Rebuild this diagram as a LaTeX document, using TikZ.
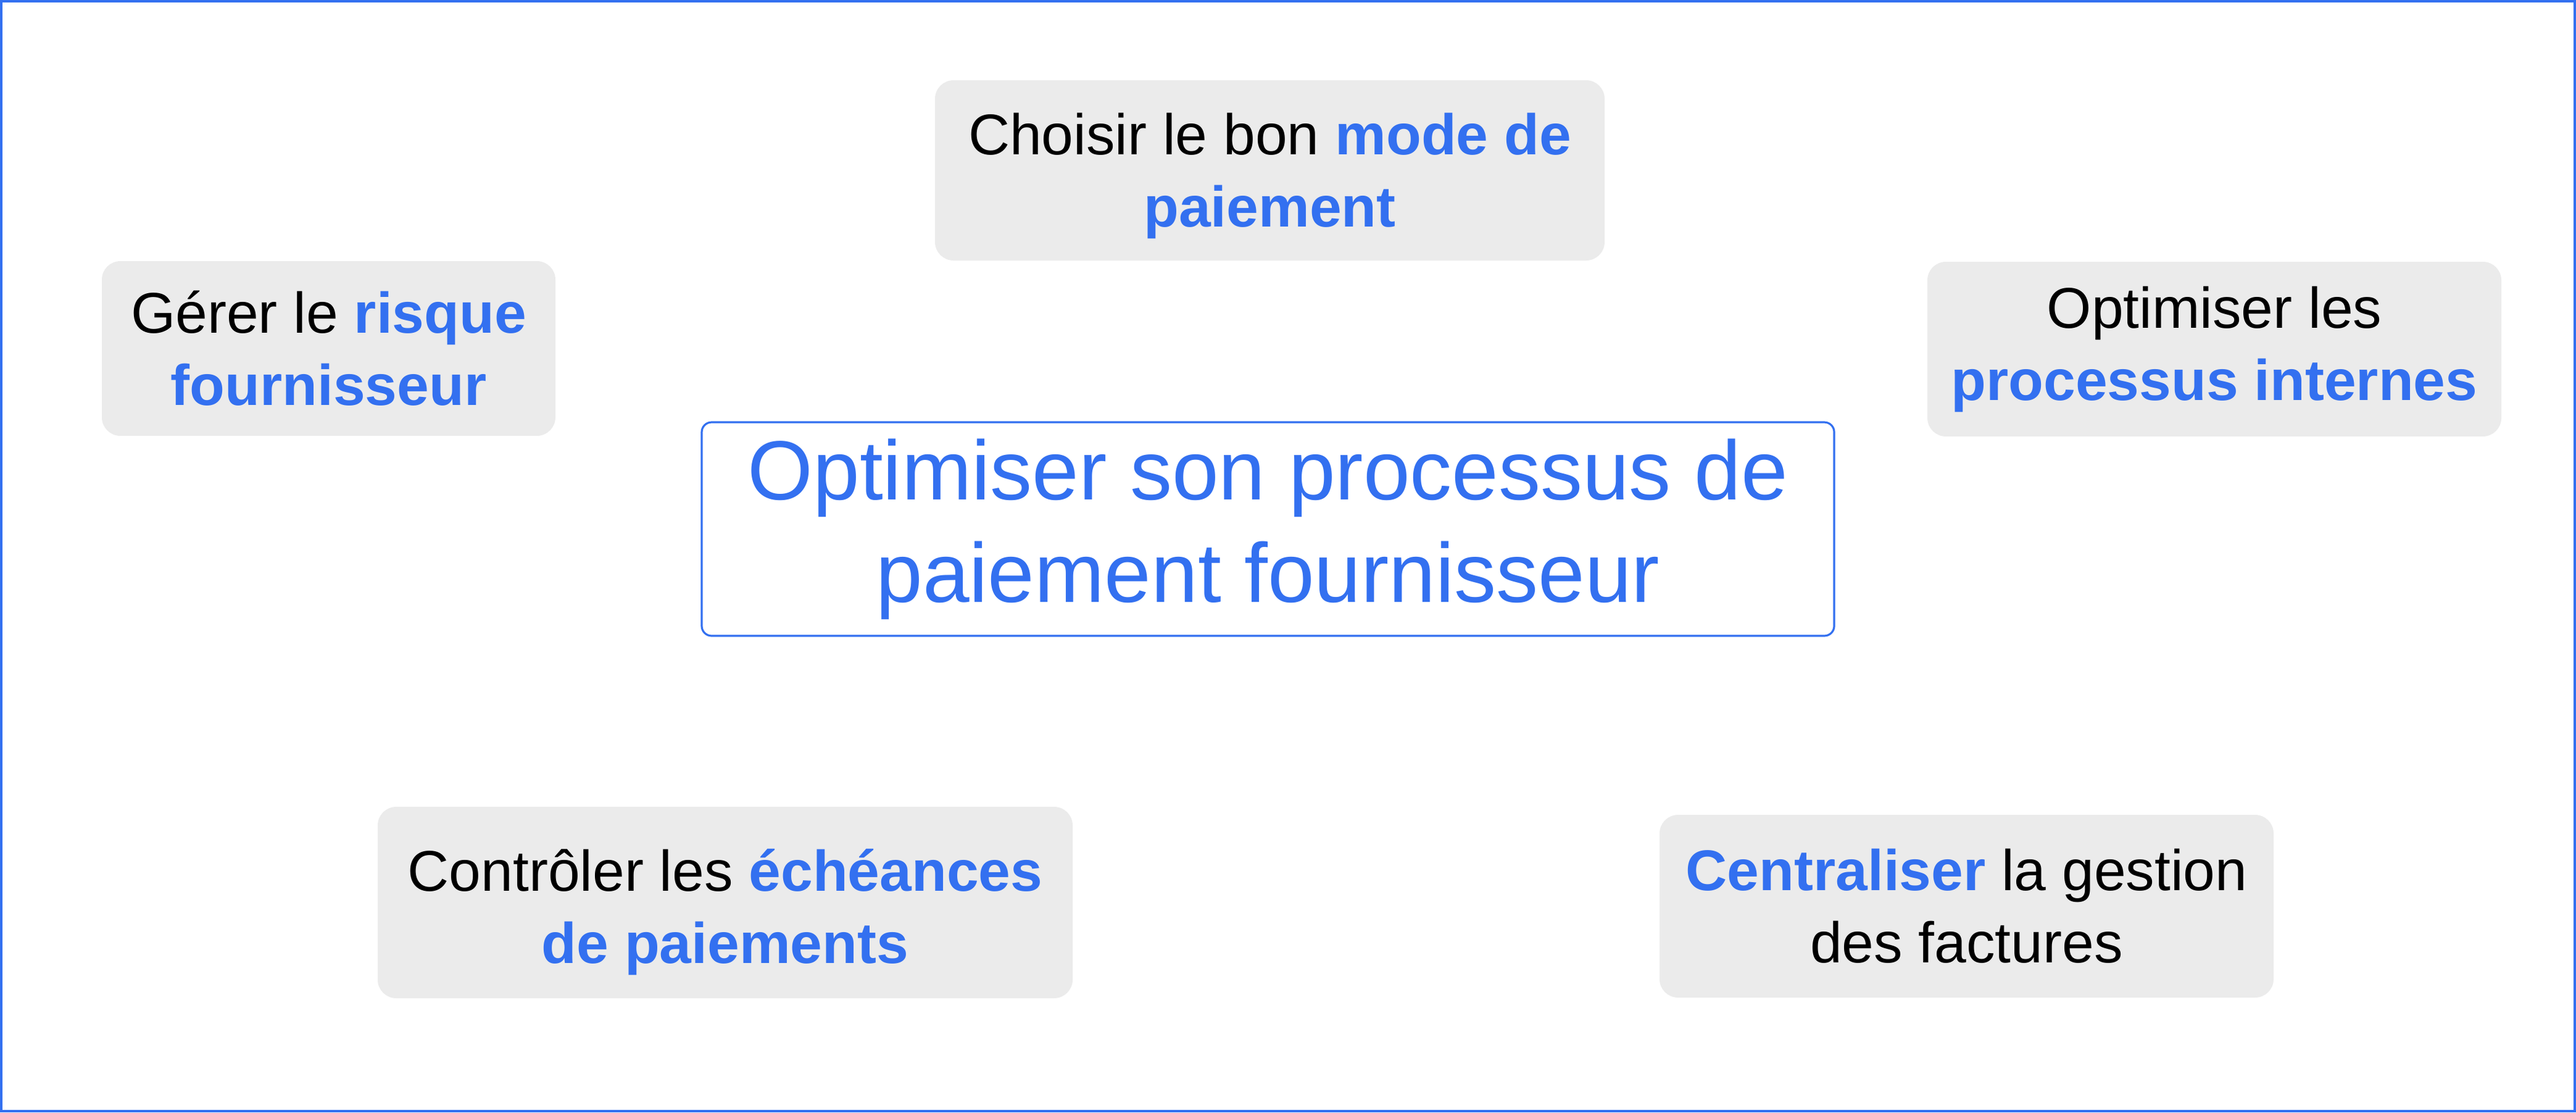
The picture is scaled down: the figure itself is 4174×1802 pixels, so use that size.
\documentclass[tikz,border=0pt]{standalone}
\usepackage{fontspec}
\setmainfont{Liberation Sans}
\definecolor{brandblue}{RGB}{51,112,240}
\definecolor{boxgray}{RGB}{235,235,235}
\newcommand{\hl}[1]{\textcolor{brandblue}{\bfseries #1}}
\begin{document}
\begin{tikzpicture}[x=0.25pt,y=-0.25pt,
  gbox/.style={fill=boxgray, rounded corners=7.5pt, inner sep=0pt},
  gtext/.style={inner sep=0pt, align=center, font=\fontsize{23.25}{29.25}\selectfont},
  cbox/.style={draw=brandblue, line width=0.8pt, fill=white, rounded corners=4pt,
     inner sep=0pt, align=center, text=brandblue,
     font=\fontsize{34}{41.5}\selectfont}]
\useasboundingbox (0,0) rectangle (4174,1802);
\draw[brandblue, line width=1pt] (2,2) rectangle (4172,1800);

\node[gbox, minimum width=271.25pt, minimum height=73pt] (top) at (2057.5,276) {};
\node[gtext] (toptext) at ([yshift=-2.3pt]top.center)
  {Choisir le bon \hl{mode de}\\\hl{paiement}};
\node[gbox, minimum width=183.75pt, minimum height=70.75pt] (left) at (532.5,564.5) {};
\node[gtext] (lefttext) at (left.center)
  {Gérer le \hl{risque}\\\hl{fournisseur}};
\node[gbox, minimum width=232.5pt, minimum height=70.75pt] (right) at (3588,565.5) {};
\node[gtext] (righttext) at (right.center)
  {Optimiser les\\\hl{processus internes}};
\node[cbox, minimum width=458.75pt, minimum height=86.5pt] (center) at (2054.5,857)
  {Optimiser son processus de\\paiement fournisseur};
\node[gbox, minimum width=281.5pt, minimum height=77.5pt] (bl) at (1175,1462) {};
\node[gtext] (bltext) at ([yshift=-3.8pt]bl.center)
  {Contrôler les \hl{échéances}\\\hl{de paiements}};
\node[gbox, minimum width=248.75pt, minimum height=74pt] (br) at (3186.5,1468) {};
\node[gtext] (brtext) at (br.center)
  {\hl{Centraliser} la gestion\\des factures};
\end{tikzpicture}
\end{document}
